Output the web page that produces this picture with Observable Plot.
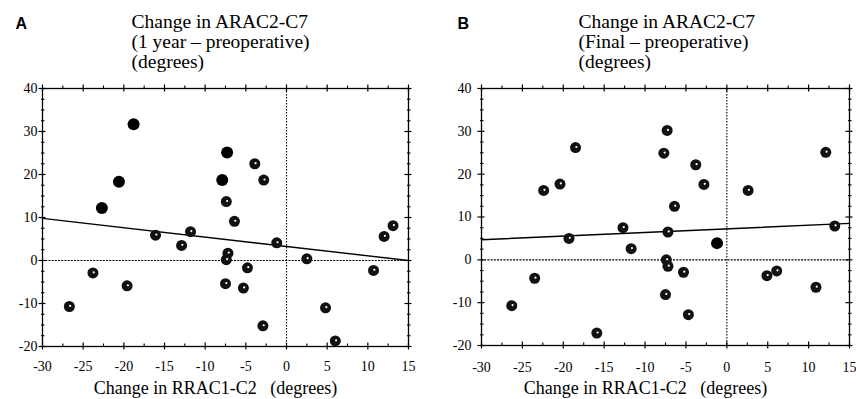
<!DOCTYPE html>
<html><head><meta charset="utf-8">
<script src="https://cdn.jsdelivr.net/npm/d3@7"></script>
<script src="https://cdn.jsdelivr.net/npm/@observablehq/plot@0.6"></script>
<style>
body{margin:0;background:#fff;}
#wrap{display:flex;width:856px;height:399px;overflow:hidden;}
svg{display:block}
</style></head><body><div id="wrap"></div>
<script>
// ---- Panel A data: change 1 year - preoperative ----
const aX = [-26.7,-23.8,-19.6,-22.7,-20.6,-18.8,-16.1,-12.9,-11.8,-7.9,-7.3,-7.4,-6.4,-7.2,-7.4,-3.9,-2.8,-1.2,2.5,12.0,13.1,10.7,-4.8,-7.5,-5.3,-2.9,4.8,6.0];
const aY = [-10.7,-2.9,-5.9,12.2,18.3,31.7,5.9,3.5,6.7,18.7,25.1,13.7,9.1,1.7,0.2,22.5,18.7,4.1,0.4,5.6,8.1,-2.3,-1.7,-5.4,-6.4,-15.2,-11.0,-18.7];
const aType = ["h","h","h","f","f","f","h","h","h","f","f","h","h","h","h","h","h","h","h","h","h","h","h","h","h","h","h","h"];
const aFitY = [9.8, 0.0];

// ---- Panel B data: change final - preoperative ----
const bX = [-22.4,-20.4,-18.5,-19.3,-12.7,-11.7,-7.3,-7.7,-3.8,-2.8,-6.4,-7.2,-1.2,2.6,12.1,13.2,-7.4,-7.2,-5.3,-7.5,-4.7,-15.9,-26.3,-23.5,4.9,6.1,10.9];
const bY = [16.2,17.7,26.2,5.0,7.5,2.6,30.2,24.9,22.2,17.6,12.5,6.5,3.9,16.2,25.1,7.9,0.0,-1.5,-2.9,-8.1,-12.8,-17.1,-10.7,-4.3,-3.7,-2.6,-6.4];
const bType = ["h","h","h","h","h","h","h","h","h","h","h","h","f","h","h","h","h","h","h","h","h","h","h","h","h","h","h"];
const bFitY = [4.7, 8.5];

const fitX = [-30, 15];
const xTickLabels = [-30,-25,-20,-15,-10,-5,0,5,10,15];
const yTickLabels = [-20,-10,0,10,20,30,40];
const xMinorTicks = [-27.5,-22.5,-17.5,-12.5,-7.5,-2.5,2.5,7.5,12.5];
const yMinorTicks = [-17.5,-15,-12.5,-7.5,-5,-2.5,2.5,5,7.5,12.5,15,17.5,22.5,25,27.5,32.5,35,37.5];

const titleA = ["Change in ARAC2-C7", "(1 year \u2013 preoperative)", "(degrees)"];
const titleB = ["Change in ARAC2-C7", "(Final \u2013 preoperative)", "(degrees)"];
const xTitle = "Change in RRAC1-C2\u00a0\u00a0 (degrees)";

function panel({xs, ys, types, fitY, letter, title, mLeft, mRight, mBottom, yPad, xPad, letterDx, titleDx, xTitleDx}) {
  const W = 428, H = 399, mTop = 88;
  const innerW = W - mLeft - mRight, innerH = H - mTop - mBottom;
  const pts = xs.map((x, i) => ({x, y: ys[i], type: types[i]}));
  const filled = pts.filter(d => d.type === "f");
  const hatched = pts.filter(d => d.type === "h");
  const fit = fitX.map((x, i) => ({x, y: fitY[i]}));
  const maj = 3.5, mnr = 2.5;
  return Plot.plot({
    width: W, height: H,
    marginLeft: mLeft, marginRight: mRight, marginTop: mTop, marginBottom: mBottom,
    style: {fontFamily: "'Liberation Serif', 'Times New Roman', serif", fontSize: "14px", background: "white", color: "black"},
    x: {domain: [-30, 15]},
    y: {domain: [-20, 40]},
    marks: [
      Plot.ruleY([0], {stroke: "black", strokeWidth: 1.1, strokeDasharray: "2,1.2"}),
      Plot.ruleX([0], {stroke: "black", strokeWidth: 1.1, strokeDasharray: "1.5,1.5"}),
      Plot.frame({stroke: "black", strokeWidth: 1.3}),
      // bottom ticks
      Plot.ruleX(xTickLabels, {x: d => d, insetTop: innerH - maj, insetBottom: -maj, stroke: "black", strokeWidth: 1.2}),
      Plot.ruleX(xMinorTicks, {x: d => d, insetTop: innerH - mnr, insetBottom: -1, stroke: "black", strokeWidth: 1.1}),
      // top ticks
      Plot.ruleX(xTickLabels, {x: d => d, insetBottom: innerH - maj, insetTop: -maj, stroke: "black", strokeWidth: 1.2}),
      Plot.ruleX(xMinorTicks, {x: d => d, insetBottom: innerH - 1, insetTop: -mnr, stroke: "black", strokeWidth: 1.1}),
      // left ticks
      Plot.ruleY(yTickLabels, {y: d => d, insetRight: innerW - maj, insetLeft: -maj, stroke: "black", strokeWidth: 1.2}),
      Plot.ruleY(yMinorTicks, {y: d => d, insetRight: innerW - mnr, insetLeft: -1, stroke: "black", strokeWidth: 1.1}),
      // right ticks
      Plot.ruleY(yTickLabels, {y: d => d, insetLeft: innerW - maj, insetRight: -maj, stroke: "black", strokeWidth: 1.2}),
      Plot.ruleY(yMinorTicks, {y: d => d, insetLeft: innerW - 1, insetRight: -mnr, stroke: "black", strokeWidth: 1.1}),
      Plot.axisX({ticks: xTickLabels, tickSize: 0, tickPadding: xPad, tickFormat: d => String(d), label: null, fontSize: 14}),
      Plot.axisY({ticks: yTickLabels, tickSize: 0, tickPadding: yPad, tickFormat: d => String(d), label: null, fontSize: 14}),
      Plot.line(fit, {x: "x", y: "y", stroke: "black", strokeWidth: 1.4}),
      Plot.dot(filled, {x: "x", y: "y", r: 6, fill: "black", stroke: "none"}),
      Plot.dot(hatched, {x: "x", y: "y", r: 5.5, fill: "#111", stroke: "none"}),
      Plot.dot(hatched, {x: "x", y: "y", r: 1.1, fill: "white", stroke: "none", dx: 0.8, dy: -0.6}),
      Plot.text([letter], {text: d => d, frameAnchor: "top-left", textAnchor: "start", lineAnchor: "top",
        dx: letterDx, dy: -71, fontSize: 16, fontWeight: "bold", fontFamily: "'Liberation Sans', Arial, sans-serif", fill: "black"}),
      Plot.text([title.join("\n")], {text: d => d, frameAnchor: "top-left", textAnchor: "start", lineAnchor: "top",
        lineHeight: 1.03, dx: titleDx, dy: -74.6, fontSize: 19.5, fill: "black"}),
      Plot.text([xTitle], {text: d => d, frameAnchor: "bottom", textAnchor: "middle", lineAnchor: "top",
        dx: xTitleDx, dy: 380.5 - (H - mBottom), fontSize: 18, fill: "black"})
    ]
  });
}

const wrap = document.getElementById("wrap");
wrap.append(panel({xs: aX, ys: aY, types: aType, fitY: aFitY, letter: "A", title: titleA,
  mLeft: 42, mRight: 20, mBottom: 53, yPad: 5, xPad: 15, letterDx: -27, titleDx: 89, xTitleDx: -10}));
wrap.append(panel({xs: bX, ys: bY, types: bType, fitY: bFitY, letter: "B", title: titleB,
  mLeft: 53, mRight: 7, mBottom: 54, yPad: 10, xPad: 17, letterDx: -24, titleDx: 97, xTitleDx: -20}));
</script></body></html>
